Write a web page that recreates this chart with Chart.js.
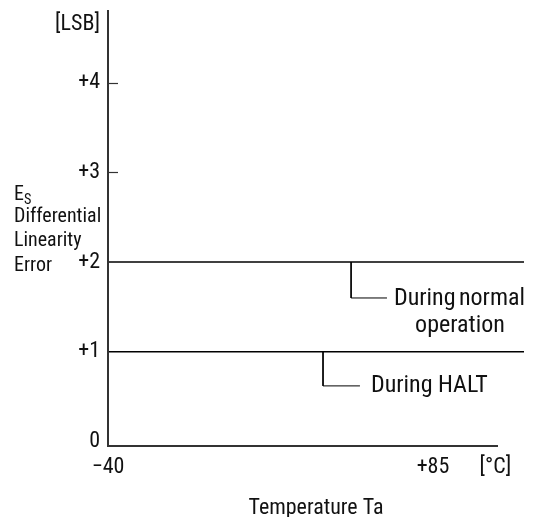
<!DOCTYPE html>
<html>
<head>
<meta charset="utf-8">
<script src="https://cdn.jsdelivr.net/npm/chart.js@4"></script>
<style>
  body { margin: 0; background: #fff; }
  canvas { display: block; }
</style>
</head>
<body>
<canvas id="chart" width="550" height="517"></canvas>
<script>
// chart values
var tempRange = [-40, 120];          // Ta extent of the two level lines
var normalLevel = [2, 2];            // During normal operation [LSB]
var haltLevel = [1, 1];              // During HALT [LSB]
var xTicks = [-40, 85];
var xTickLabels = ['\u221240', '+85'];
var xUnitAt = 109, xUnitLabel = '[\u00b0C]';
var yTicks = [0, 1, 2, 3, 4];
var yTickLabels = ['0', '+1', '+2', '+3', '+4'];
var yUnitAt = 4.65, yUnitLabel = '[LSB]';
var xAxisEnd = 110;

// callout leaders (data space)
var normalLeader = [[53.5, 2], [53.5, 1.6], [67.3, 1.6]];
var haltLeader = [[42.7, 1], [42.7, 0.62], [56.9, 0.62]];

var FONT = "'Liberation Sans Narrow', 'Roboto Condensed', Roboto, sans-serif";

function pts(xs, ys) {
    return xs.map(function (x, i) { return { x: x, y: ys[i] }; });
}
function leaderPts(arr) {
    return arr.map(function (p) { return { x: p[0], y: p[1] }; });
}

var axesPlugin = {
    id: 'axesPlugin',
    afterDraw: function (chart) {
        var ctx = chart.ctx, a = chart.chartArea;
        var xs = chart.scales.x, ys = chart.scales.y;
        ctx.save();
        ctx.strokeStyle = '#333';
        ctx.lineWidth = 2;
        ctx.beginPath();
        ctx.moveTo(a.left, a.top);
        ctx.lineTo(a.left, a.bottom);
        ctx.lineTo(xs.getPixelForValue(xAxisEnd), a.bottom);
        ctx.stroke();
        // inward tick marks
        ctx.lineWidth = 1.2;
        [3, 4].forEach(function (v) {
            var py = Math.round(ys.getPixelForValue(v)) + 0.5;
            ctx.beginPath();
            ctx.moveTo(a.left, py);
            ctx.lineTo(a.left + 10, py);
            ctx.stroke();
        });

        // y title
        ctx.fillStyle = '#111';
        ctx.textBaseline = 'middle';
        ctx.textAlign = 'left';
        ctx.save();
        ctx.translate(14, 0);
        ctx.scale(0.95, 1);
        ctx.font = '21px ' + FONT;
        ctx.fillText('E', 0, 195);
        var ew = ctx.measureText('E').width;
        ctx.font = '15px ' + FONT;
        ctx.fillText('S', ew, 200);
        ctx.font = '21px ' + FONT;
        ctx.fillText('Differential', 0, 217);
        ctx.fillText('Linearity', 0, 241);
        ctx.fillText('Error', 0, 266);
        ctx.restore();

        // callout labels
        ctx.font = '24px ' + FONT;
        var nEnd = normalLeader[2];
        var nx = xs.getPixelForValue(nEnd[0]) + 7, ny = ys.getPixelForValue(nEnd[1]);
        ctx.textAlign = 'left';
        ctx.fillText('During', nx, ny + 1);
        ctx.textAlign = 'right';
        ctx.fillText('normal', a.right + 1, ny + 1);
        ctx.textAlign = 'center';
        ctx.fillText('operation', (nx + a.right) / 2 + 1, ny + 28);
        var hEnd = haltLeader[2];
        ctx.textAlign = 'left';
        ctx.fillText('During HALT', xs.getPixelForValue(hEnd[0]) + 11, ys.getPixelForValue(hEnd[1]));
        ctx.restore();
    }
};

var lineStyle = { borderColor: '#000', borderWidth: 1.5, pointRadius: 0, fill: false, tension: 0 };
var leaderStyle = { borderColor: '#000', borderWidth: 1, pointRadius: 0, fill: false, tension: 0 };

new Chart(document.getElementById('chart'), {
    type: 'line',
    data: {
        datasets: [
            Object.assign({ label: 'During normal operation', data: pts(tempRange, normalLevel) }, lineStyle),
            Object.assign({ label: 'During HALT', data: pts(tempRange, haltLevel) }, lineStyle),
            Object.assign({ label: 'normal leader', data: leaderPts(normalLeader) }, leaderStyle),
            Object.assign({ label: 'halt leader', data: leaderPts(haltLeader) }, leaderStyle)
        ]
    },
    options: {
        responsive: false,
        animation: false,
        layout: { padding: { top: 10, right: 26, left: 0, bottom: 0 } },
        plugins: { legend: { display: false }, tooltip: { enabled: false } },
        scales: {
            x: {
                type: 'linear',
                min: tempRange[0],
                max: tempRange[1],
                afterBuildTicks: function (s) {
                    s.ticks = xTicks.concat([xUnitAt]).map(function (v) { return { value: v }; });
                },
                afterFit: function (s) { s.height = 71; s.paddingLeft = 0; s.paddingRight = 0; },
                ticks: {
                    autoSkip: false,
                    maxRotation: 0,
                    padding: 8,
                    color: '#111',
                    font: { family: FONT, size: 22 },
                    callback: function (v) {
                        if (v === xUnitAt) return xUnitLabel;
                        var i = xTicks.indexOf(v);
                        return i >= 0 ? xTickLabels[i] : '';
                    }
                },
                grid: { display: false, drawTicks: false },
                border: { display: false },
                title: {
                    display: true,
                    text: 'Temperature Ta',
                    color: '#111',
                    font: { family: FONT, size: 22 },
                    padding: { top: 0, bottom: -5 }
                }
            },
            y: {
                type: 'linear',
                min: -0.05,
                max: 4.81,
                afterBuildTicks: function (s) {
                    s.ticks = yTicks.concat([yUnitAt]).map(function (v) { return { value: v }; });
                },
                afterFit: function (s) { s.width = 108; s.paddingTop = 0; s.paddingBottom = 0; },
                ticks: {
                    autoSkip: false,
                    padding: 8,
                    color: '#111',
                    font: { family: FONT, size: 22 },
                    callback: function (v) {
                        if (v === yUnitAt) return yUnitLabel;
                        var i = yTicks.indexOf(v);
                        return i >= 0 ? yTickLabels[i] : '';
                    }
                },
                grid: { display: false, drawTicks: false },
                border: { display: false }
            }
        }
    },
    plugins: [axesPlugin]
});
</script>
</body>
</html>
